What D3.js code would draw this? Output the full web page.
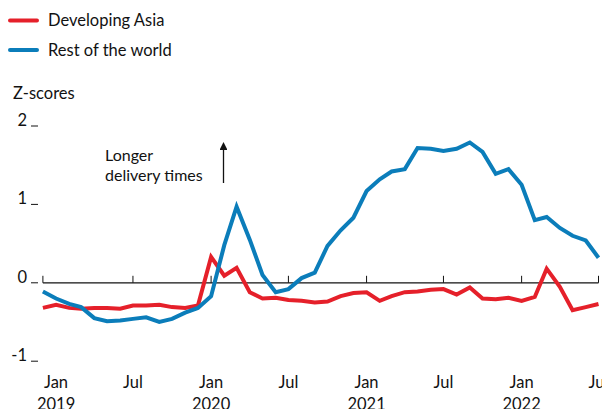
<!DOCTYPE html>
<html>
<head>
<meta charset="utf-8">
<script src="https://cdn.jsdelivr.net/npm/d3@7"></script>
<style>
  body { margin: 0; background: #fff; }
  text { font-family: Lato, "Open Sans", sans-serif; fill: #121212; }
</style>
</head>
<body>
<div id="vis"></div>
<script>
// monthly, Dec 2018 to Jul 2022
let months = d3.timeMonth.range(new Date(2018, 11, 1), new Date(2022, 7, 1));

let developingAsia = [-0.32, -0.28, -0.32, -0.33, -0.32, -0.32, -0.33, -0.29, -0.29, -0.28,
  -0.31, -0.32, -0.29, 0.33, 0.09, 0.19, -0.12, -0.2, -0.19, -0.22,
  -0.23, -0.25, -0.24, -0.17, -0.13, -0.12, -0.23, -0.17, -0.12, -0.11,
  -0.09, -0.08, -0.15, -0.06, -0.2, -0.21, -0.19, -0.23, -0.18, 0.18,
  -0.05, -0.35, -0.31, -0.27];

let restOfWorld = [-0.11, -0.2, -0.27, -0.31, -0.45, -0.49, -0.48, -0.46, -0.44, -0.5,
  -0.46, -0.38, -0.32, -0.17, 0.48, 0.97, 0.55, 0.1, -0.12, -0.08,
  0.06, 0.13, 0.47, 0.67, 0.83, 1.17, 1.32, 1.42, 1.45, 1.72,
  1.71, 1.68, 1.71, 1.79, 1.67, 1.39, 1.45, 1.25, 0.8, 0.84,
  0.7, 0.6, 0.54, 0.32];

let yTicks = [2, 1, 0, -1];
let xTickDates = [new Date(2018, 11, 1), new Date(2019, 6, 1), new Date(2020, 0, 1), new Date(2020, 6, 1),
  new Date(2021, 0, 1), new Date(2021, 6, 1), new Date(2022, 0, 1), new Date(2022, 6, 1)];
let xLabelDates = [new Date(2019, 0, 1), new Date(2019, 6, 1), new Date(2020, 0, 1), new Date(2020, 6, 1),
  new Date(2021, 0, 1), new Date(2021, 6, 1), new Date(2022, 0, 1), new Date(2022, 6, 1)];

let width = 602, height = 409;

let svg = d3.select('#vis')
  .append('svg')
  .attr('width', width)
  .attr('height', height)
  .style('display', 'block');

let x = d3.scaleTime()
  .domain([months[0], months[months.length - 1]])
  .range([42.9, 598.5]);

let y = d3.scaleLinear()
  .domain([-1, 2])
  .range([361.2, 126]);

// legend
let legend = [['Developing Asia', '#e5202a', 20.5], ['Rest of the world', '#0b7dba', 50]];
legend.forEach(function(l) {
  svg.append('line')
    .attr('x1', 10).attr('x2', 37)
    .attr('y1', l[2]).attr('y2', l[2])
    .attr('stroke', l[1])
    .attr('stroke-width', 4)
    .attr('stroke-linecap', 'round');
  svg.append('text')
    .attr('x', 48).attr('y', l[2] + 5.5)
    .style('font-size', '16.5px')
    .text(l[0]);
});

svg.append('text')
  .attr('x', 13).attr('y', 99)
  .style('font-size', '16.5px')
  .text('Z-scores');

// y axis labels with little dashes
yTicks.forEach(function(t) {
  svg.append('text')
    .attr('x', 27).attr('y', y(t))
    .attr('text-anchor', 'end')
    .style('font-size', '16.5px')
    .text(t);
  svg.append('line')
    .attr('x1', 31).attr('x2', 38)
    .attr('y1', y(t)).attr('y2', y(t))
    .attr('stroke', '#121212')
    .attr('stroke-width', 1);
});

// zero line and ticks
svg.append('line')
  .attr('x1', x.range()[0]).attr('x2', x.range()[1])
  .attr('y1', y(0)).attr('y2', y(0))
  .attr('stroke', '#121212')
  .attr('stroke-width', 1.3);

svg.selectAll('.xtick')
  .data(xTickDates)
  .enter().append('line')
  .attr('x1', d => x(d)).attr('x2', d => x(d))
  .attr('y1', y(0) - 7).attr('y2', y(0))
  .attr('stroke', '#121212')
  .attr('stroke-width', 1);

xLabelDates.forEach(function(d) {
  svg.append('text')
    .attr('x', x(d)).attr('y', 388)
    .attr('text-anchor', 'middle')
    .style('font-size', '16.5px')
    .text(d3.timeFormat('%b')(d));
  if (d.getMonth() === 0) {
    svg.append('text')
      .attr('x', x(d)).attr('y', 410)
      .attr('text-anchor', 'middle')
      .style('font-size', '16.5px')
      .text(d.getFullYear());
  }
});

// annotation
svg.append('text')
  .attr('x', 105).attr('y', 161)
  .style('font-size', '16px')
  .text('Longer');
svg.append('text')
  .attr('x', 105).attr('y', 181)
  .style('font-size', '16px')
  .text('delivery times');

svg.append('defs').append('marker')
  .attr('id', 'arrow')
  .attr('viewBox', '0 0 10 10')
  .attr('refX', 5).attr('refY', 5)
  .attr('markerWidth', 6).attr('markerHeight', 6)
  .attr('orient', 'auto')
  .append('path')
  .attr('d', 'M0,0 L10,5 L0,10 z')
  .attr('fill', '#121212');

svg.append('line')
  .attr('x1', 223.5).attr('x2', 223.5)
  .attr('y1', 183).attr('y2', 146)
  .attr('stroke', '#121212')
  .attr('stroke-width', 1.3)
  .attr('marker-end', 'url(#arrow)');

// lines
let line = d3.line()
  .x((d, i) => x(months[i]))
  .y(d => y(d));

svg.append('path')
  .datum(developingAsia)
  .attr('d', line)
  .attr('fill', 'none')
  .attr('stroke', '#e5202a')
  .attr('stroke-width', 4);

svg.append('path')
  .datum(restOfWorld)
  .attr('d', line)
  .attr('fill', 'none')
  .attr('stroke', '#0b7dba')
  .attr('stroke-width', 4);
</script>
</body>
</html>
